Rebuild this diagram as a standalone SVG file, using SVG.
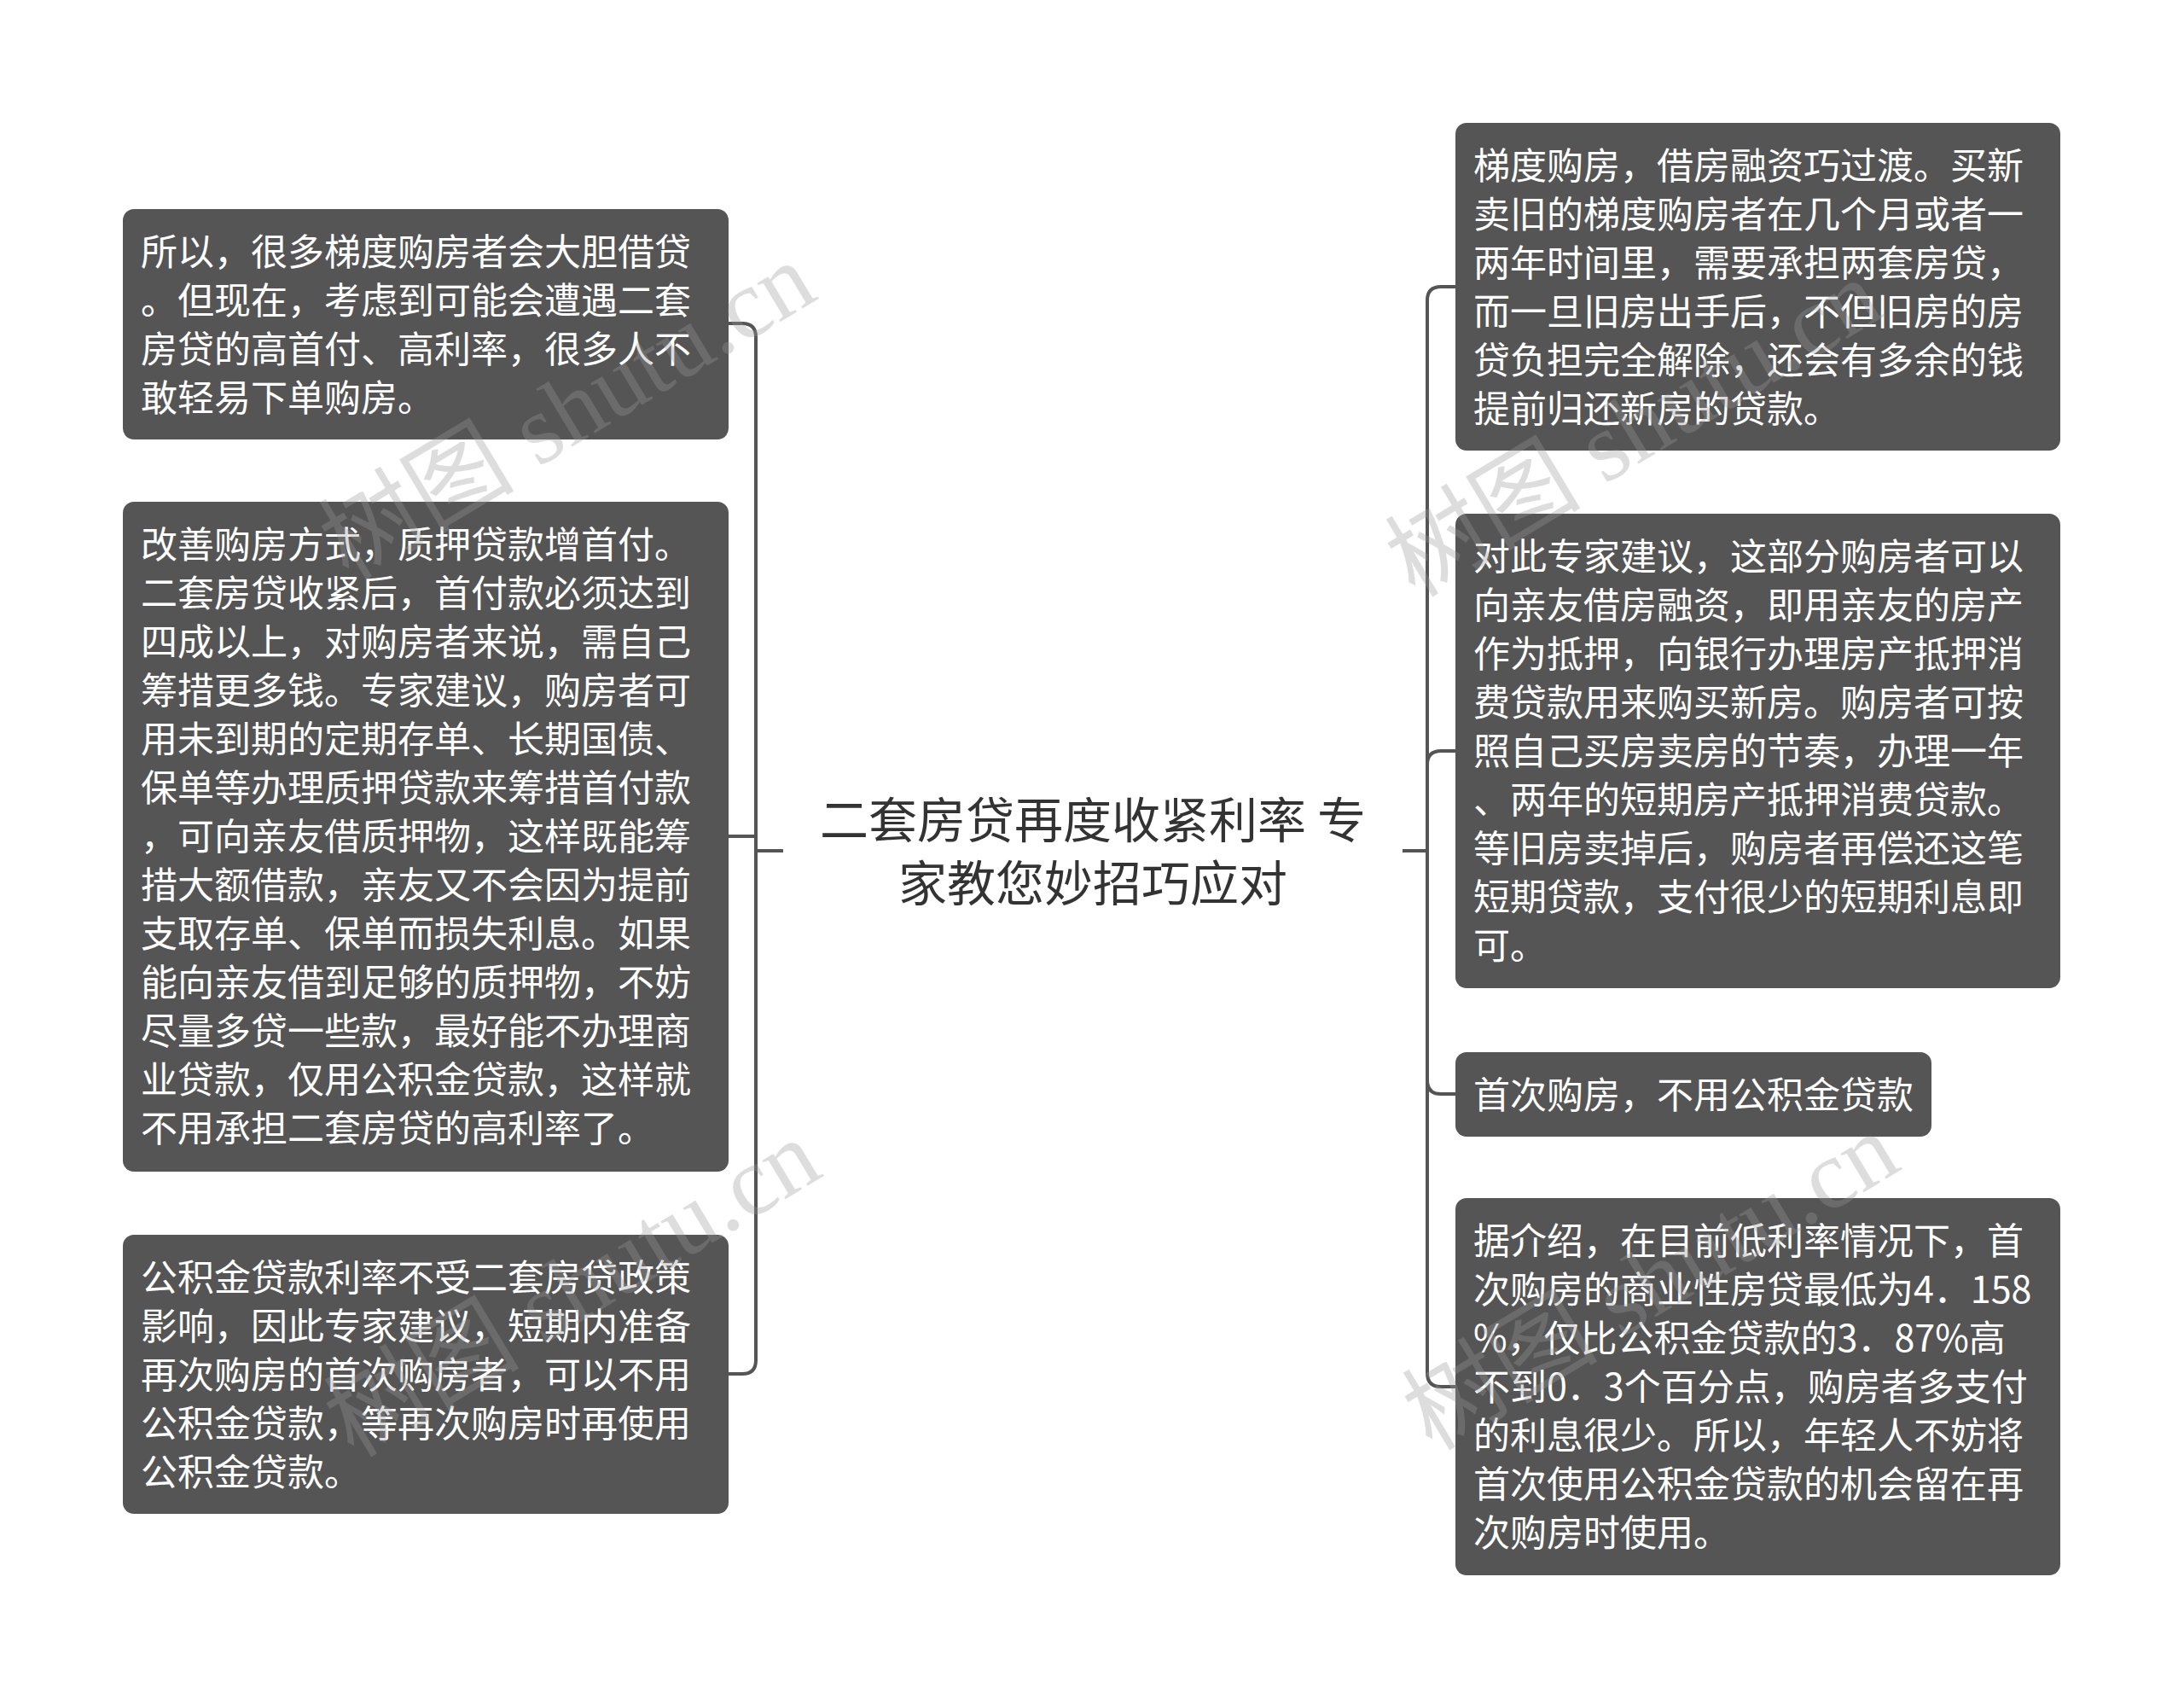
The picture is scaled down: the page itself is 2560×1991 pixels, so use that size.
<svg xmlns="http://www.w3.org/2000/svg" width="2560" height="1991" viewBox="0 0 2560 1991">
<style>
.box{fill:#555555;}
.t{font-family:"Noto Sans CJK SC","Noto Sans",sans-serif;font-size:43px;fill:#ffffff;}
.ct{font-family:"Noto Sans CJK SC","Noto Sans",sans-serif;font-size:57px;fill:#333333;text-anchor:middle;}
.c{fill:none;stroke:#555555;stroke-width:4;}
.wm{font-size:115px;fill:#999999;opacity:0.32;}
.wm .cj{font-family:"Noto Sans CJK SC",sans-serif;}
.wm .lt{font-family:"Liberation Serif",serif;}
</style>
<rect width="2560" height="1991" fill="#ffffff"/>
<g id="connectors">
<path class="c" d="M918,997 H886 V395 Q886,379 870,379 H854"/>
<path class="c" d="M918,997 H886 V980 H854"/>
<path class="c" d="M918,997 H886 V1594 Q886,1610 870,1610 H854"/>
<path class="c" d="M1644,997 H1673 V352 Q1673,336 1689,336 H1706"/>
<path class="c" d="M1644,997 H1673 V896 Q1673,880 1689,880 H1706"/>
<path class="c" d="M1644,997 H1673 V1266 Q1673,1282 1689,1282 H1706"/>
<path class="c" d="M1644,997 H1673 V1609 Q1673,1625 1689,1625 H1706"/>
</g>
<g id="center">
<text class="ct" x="1281" y="982">二套房贷再度收紧利率 专</text>
<text class="ct" x="1281" y="1056">家教您妙招巧应对</text>
</g>
<g id="L1">
<rect class="box" x="144" y="245" width="710" height="270" rx="13"/>
<text class="t" x="165" y="311">所以，很多梯度购房者会大胆借贷</text>
<text class="t" x="165" y="368">。但现在，考虑到可能会遭遇二套</text>
<text class="t" x="165" y="425">房贷的高首付、高利率，很多人不</text>
<text class="t" x="165" y="482">敢轻易下单购房。</text>
</g>
<g id="L2">
<rect class="box" x="144" y="588" width="710" height="785" rx="13"/>
<text class="t" x="165" y="654">改善购房方式，质押贷款增首付。</text>
<text class="t" x="165" y="711">二套房贷收紧后，首付款必须达到</text>
<text class="t" x="165" y="768">四成以上，对购房者来说，需自己</text>
<text class="t" x="165" y="825">筹措更多钱。专家建议，购房者可</text>
<text class="t" x="165" y="882">用未到期的定期存单、长期国债、</text>
<text class="t" x="165" y="939">保单等办理质押贷款来筹措首付款</text>
<text class="t" x="165" y="996">，可向亲友借质押物，这样既能筹</text>
<text class="t" x="165" y="1053">措大额借款，亲友又不会因为提前</text>
<text class="t" x="165" y="1110">支取存单、保单而损失利息。如果</text>
<text class="t" x="165" y="1167">能向亲友借到足够的质押物，不妨</text>
<text class="t" x="165" y="1224">尽量多贷一些款，最好能不办理商</text>
<text class="t" x="165" y="1281">业贷款，仅用公积金贷款，这样就</text>
<text class="t" x="165" y="1338">不用承担二套房贷的高利率了。</text>
</g>
<g id="L3">
<rect class="box" x="144" y="1447" width="710" height="327" rx="13"/>
<text class="t" x="165" y="1513">公积金贷款利率不受二套房贷政策</text>
<text class="t" x="165" y="1570">影响，因此专家建议，短期内准备</text>
<text class="t" x="165" y="1627">再次购房的首次购房者，可以不用</text>
<text class="t" x="165" y="1684">公积金贷款，等再次购房时再使用</text>
<text class="t" x="165" y="1741">公积金贷款。</text>
</g>
<g id="R1">
<rect class="box" x="1706" y="144" width="709" height="384" rx="13"/>
<text class="t" x="1727" y="210">梯度购房，借房融资巧过渡。买新</text>
<text class="t" x="1727" y="267">卖旧的梯度购房者在几个月或者一</text>
<text class="t" x="1727" y="324">两年时间里，需要承担两套房贷，</text>
<text class="t" x="1727" y="381">而一旦旧房出手后，不但旧房的房</text>
<text class="t" x="1727" y="438">贷负担完全解除，还会有多余的钱</text>
<text class="t" x="1727" y="495">提前归还新房的贷款。</text>
</g>
<g id="R2">
<rect class="box" x="1706" y="602" width="709" height="556" rx="13"/>
<text class="t" x="1727" y="668">对此专家建议，这部分购房者可以</text>
<text class="t" x="1727" y="725">向亲友借房融资，即用亲友的房产</text>
<text class="t" x="1727" y="782">作为抵押，向银行办理房产抵押消</text>
<text class="t" x="1727" y="839">费贷款用来购买新房。购房者可按</text>
<text class="t" x="1727" y="896">照自己买房卖房的节奏，办理一年</text>
<text class="t" x="1727" y="953">、两年的短期房产抵押消费贷款。</text>
<text class="t" x="1727" y="1010">等旧房卖掉后，购房者再偿还这笔</text>
<text class="t" x="1727" y="1067">短期贷款，支付很少的短期利息即</text>
<text class="t" x="1727" y="1124">可。</text>
</g>
<g id="R3">
<rect class="box" x="1706" y="1233" width="558" height="99" rx="13"/>
<text class="t" x="1727" y="1299">首次购房，不用公积金贷款</text>
</g>
<g id="R4">
<rect class="box" x="1706" y="1404" width="709" height="442" rx="13"/>
<text class="t" x="1727" y="1470">据介绍，在目前低利率情况下，首</text>
<text class="t" x="1727" y="1527">次购房的商业性房贷最低为4．158</text>
<text class="t" x="1727" y="1584">%，仅比公积金贷款的3．87%高</text>
<text class="t" x="1727" y="1641">不到0．3个百分点，购房者多支付</text>
<text class="t" x="1727" y="1698">的利息很少。所以，年轻人不妨将</text>
<text class="t" x="1727" y="1755">首次使用公积金贷款的机会留在再</text>
<text class="t" x="1727" y="1812">次购房时使用。</text>
</g>
<g id="watermarks">
<text class="wm" text-anchor="middle" transform="translate(685,515) rotate(-31)"><tspan class="cj">树图</tspan><tspan class="lt"> shutu.cn</tspan></text>
<text class="wm" text-anchor="middle" transform="translate(1935,535) rotate(-31)"><tspan class="cj">树图</tspan><tspan class="lt"> shutu.cn</tspan></text>
<text class="wm" text-anchor="middle" transform="translate(691,1543) rotate(-31)"><tspan class="cj">树图</tspan><tspan class="lt"> shutu.cn</tspan></text>
<text class="wm" text-anchor="middle" transform="translate(1955,1535) rotate(-31)"><tspan class="cj">树图</tspan><tspan class="lt"> shutu.cn</tspan></text>
</g>
</svg>
